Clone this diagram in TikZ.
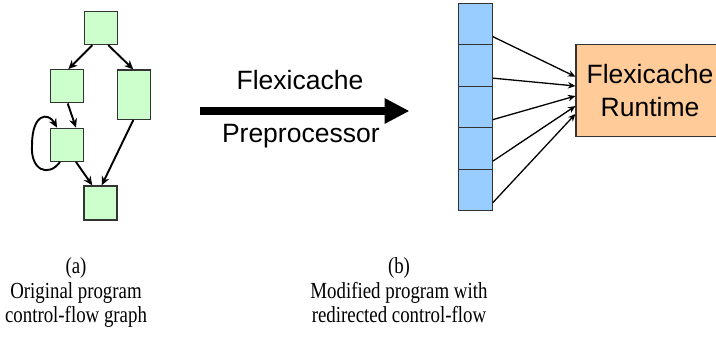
\documentclass[tikz,border=0pt]{standalone}
\usepackage{fontspec}
\setmainfont{Liberation Serif}
\newfontfamily\labelsans{Liberation Sans}
\newfontfamily\capserif[FakeStretch=0.82]{Liberation Serif}
\usetikzlibrary{arrows.meta,calc}

\definecolor{cfggreen}{HTML}{CCFFCC}
\definecolor{slotblue}{HTML}{99CCFF}
\definecolor{rtorange}{HTML}{FFCC99}
\definecolor{edgegray}{HTML}{333333}

\tikzset{
  block/.style={draw=edgegray, line width=1.3pt, fill=cfggreen, inner sep=0pt,
                minimum width=33pt, minimum height=33pt},
  slot/.style={draw=edgegray, line width=1.1pt, fill=slotblue, inner sep=0pt,
               minimum width=33.6pt, minimum height=41.5pt},
  runtime/.style={draw=edgegray, line width=1.1pt, fill=rtorange, inner sep=0pt,
                  minimum width=148pt, minimum height=91.7pt, align=center,
                  font=\labelsans\fontsize{26.5}{33}\selectfont},
  flow/.style={line width=1.9pt, -{Stealth[length=9pt,width=8pt]}},
  redirect/.style={line width=1.3pt, -{Stealth[length=7.5pt,width=6.5pt]}},
  bigarrow/.style={line width=8pt, -{Triangle[length=25pt,width=24pt]}},
  sanslabel/.style={inner sep=0pt, font=\labelsans\fontsize{26.5}{32}\selectfont},
  caption/.style={inner sep=0pt, align=center,
                  font=\capserif\fontsize{23}{24.5}\selectfont}
}

\begin{document}
\begin{tikzpicture}[x=1pt, y=-1pt]
  \useasboundingbox (0,0) rectangle (716,339);
  \clip (0,0) rectangle (716,339);

  % control-flow graph
  \node[block] (n1) at (100.7,28) {};
  \node[block] (n2) at (67.2,86.3) {};
  \node[block, minimum height=49.3pt] (n3) at (134,94.7) {};
  \node[block] (n4) at (67.2,144.8) {};
  \node[block, minimum height=34pt] (n5) at (100.5,203) {};

  \draw[flow] ($(n1.south)+(-8.4,0)$) -- ($(n2.north)+(1.1,0)$);
  \draw[flow] ($(n1.south)+(7.6,0)$) -- ($(n3.north)+(-0.7,0)$);
  \draw[flow] ($(n2.south)+(0.5,0)$) -- ($(n4.north)+(8.8,0)$);
  \draw[flow] ($(n4.south)+(8.8,0)$) -- ($(n5.north)+(-8.2,0)$);
  \draw[flow] ($(n3.south)+(-0.7,0)$) -- ($(n5.north)+(1.2,0)$);
  % self loop on n4
  \draw[flow] ($(n4.south west)+(10,0)$)
      .. controls ($(n4.south west)+(-2,16)$) and ($(n4.south west)+(-20,8)$) .. ($(n4.west)+(-18,0)$)
      .. controls ($(n4.north west)+(-18,-14)$) and ($(n4.north west)+(-2,-16)$) .. ($(n4.north west)+(7,0)$);

  % preprocessor arrow
  \coordinate (ppA) at (200,111);
  \coordinate (ppB) at (409.5,111);
  \draw[bigarrow] (ppA) -- (ppB);
  \node[sanslabel, anchor=base] (ppTop) at (300,90) {Flexicache};
  \node[sanslabel, anchor=base] (ppBot) at (300.8,142.3) {Preprocessor};

  % redirection table
  \foreach \i in {1,...,5} {
    \node[slot] (s\i) at (475.5,{24.05+41.5*(\i-1)}) {};
  }
  \node[runtime] (rt) at (650,90.8) {Flexicache\\Runtime};

  \draw[redirect] ($(s1.east)+(0,12.6)$) -- ($(rt.west)+(0,-14.1)$);
  \draw[redirect] ($(s2.east)+(0,12.6)$) -- ($(rt.west)+(0,-4.8)$);
  \draw[redirect] ($(s3.east)+(0,12.6)$) -- ($(rt.west)+(0,5.2)$);
  \draw[redirect] ($(s4.east)+(0,12.6)$) -- ($(rt.west)+(0,15.2)$);
  \draw[redirect] ($(s5.east)+(0,12.6)$) -- ($(rt.west)+(0,23.2)$);

  % captions
  \node[caption, anchor=north] (capA) at (76,257.5) {(a)\\Original program\\control-flow graph};
  \node[caption, anchor=north] (capB) at (399,257.5) {(b)\\Modified program with\\redirected control-flow};
\end{tikzpicture}
\end{document}
